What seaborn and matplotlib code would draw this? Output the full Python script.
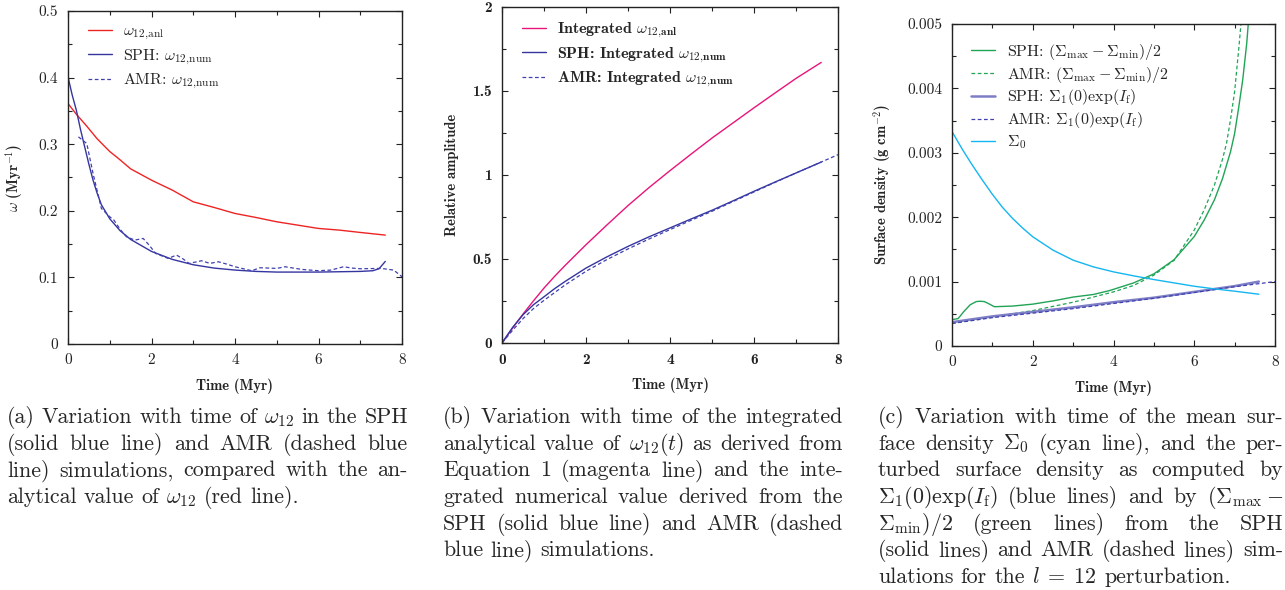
import matplotlib
matplotlib.use("Agg")
import numpy as np
import pandas as pd
import seaborn as sns
import matplotlib.pyplot as plt
from matplotlib.ticker import MultipleLocator, FuncFormatter
from matplotlib.transforms import IdentityTransform

# ---- panel (a): omega_12 vs time
t_anl = [0, 0.2, 0.45, 0.7, 1.0, 1.2, 1.5, 2.0, 2.5, 3.0, 3.5, 4.0, 4.5, 5.0, 5.5, 6.0, 6.5, 7.0, 7.6]
w_anl = [0.361, 0.345, 0.327, 0.308, 0.289, 0.279, 0.263, 0.246, 0.231, 0.2135, 0.205, 0.196, 0.19,
         0.1835, 0.1785, 0.1735, 0.171, 0.1675, 0.1635]
t_sph = [0, 0.1, 0.2, 0.3, 0.4, 0.5, 0.6, 0.7, 0.8, 1.0, 1.25, 1.5, 2.0, 2.5, 3.0, 3.5, 4.0, 4.5,
         5.0, 5.5, 6.0, 6.5, 7.0, 7.3, 7.45, 7.6]
w_sph = [0.401, 0.374, 0.351, 0.322, 0.296, 0.27, 0.246, 0.226, 0.209, 0.188, 0.17, 0.157, 0.139,
         0.127, 0.119, 0.114, 0.111, 0.109, 0.108, 0.108, 0.108, 0.1085, 0.109, 0.11, 0.113, 0.124]
t_amr = [0.25, 0.35, 0.45, 0.6, 0.8, 1.0, 1.1, 1.25, 1.4, 1.6, 1.8, 1.95, 2.1, 2.4, 2.6, 2.75, 2.9,
         3.2, 3.4, 3.6, 3.8, 4.0, 4.2, 4.4, 4.6, 5.0, 5.2, 5.6, 6.0, 6.3, 6.6, 6.8, 7.0, 7.5, 7.8, 8.0]
w_amr = [0.311, 0.306, 0.301, 0.256, 0.2035, 0.191, 0.186, 0.172, 0.161, 0.156, 0.1585, 0.148,
         0.136, 0.1285, 0.1335, 0.128, 0.121, 0.125, 0.121, 0.1235, 0.12, 0.116, 0.113, 0.11,
         0.1145, 0.1135, 0.116, 0.112, 0.11, 0.111, 0.116, 0.114, 0.113, 0.1135, 0.111, 0.101]

# ---- panel (b): integrated amplitude
t_int = [0, 0.25, 0.5, 0.75, 1, 1.25, 1.5, 2, 2.5, 3, 3.5, 4, 4.5, 5, 5.5, 6, 6.5, 7, 7.6]
int_anl = [0, 0.088, 0.172, 0.251, 0.327, 0.396, 0.461, 0.585, 0.703, 0.818, 0.925, 1.026, 1.124,
           1.22, 1.31, 1.40, 1.488, 1.575, 1.67]
int_sph = [0, 0.092, 0.168, 0.228, 0.275, 0.323, 0.366, 0.446, 0.513, 0.575, 0.632, 0.685, 0.738,
           0.79, 0.846, 0.903, 0.958, 1.012, 1.077]
t_int_amr = [0, 0.25, 0.5, 0.75, 1, 1.5, 2, 2.5, 3, 3.5, 4, 4.5, 5, 5.5, 6, 6.5, 7, 7.5, 8]
int_amr = [0, 0.075, 0.145, 0.205, 0.254, 0.345, 0.427, 0.497, 0.56, 0.619, 0.675, 0.73, 0.784,
           0.842, 0.899, 0.956, 1.012, 1.066, 1.121]

# ---- panel (c): surface density
t_sig0 = [0, 0.25, 0.5, 0.75, 1, 1.25, 1.5, 1.75, 2, 2.5, 3, 3.5, 4, 4.5, 5, 5.5, 6, 6.5, 7, 7.6]
sig0 = [0.00333, 0.00306, 0.002811, 0.002578, 0.002355, 0.002153, 0.001981, 0.001831, 0.001696,
        0.001489, 0.001333, 0.001229, 0.001151, 0.001089, 0.001032, 0.00098, 0.000928, 0.000887,
        0.000851, 0.000804]
t_gs = [0, 0.15, 0.3, 0.45, 0.6, 0.7, 0.8, 0.9, 1.05, 1.5, 2, 2.5, 3, 3.5, 3.9, 4.5, 5, 5.5, 6,
        6.25, 6.5, 6.7, 6.9, 7.0, 7.1, 7.2, 7.3, 7.35]
sig_gs = [0.00041, 0.000425, 0.00054, 0.00064, 0.00069, 0.000695, 0.00069, 0.00066, 0.00061,
          0.00062, 0.00065, 0.0007, 0.00076, 0.0008, 0.00086, 0.00098, 0.00112, 0.00134, 0.0017,
          0.00196, 0.00227, 0.0026, 0.00302, 0.0033, 0.0037, 0.00413, 0.0047, 0.0051]
t_ga = [0, 1, 2, 3, 4, 4.5, 5, 5.5, 6, 6.25, 6.5, 6.7, 6.8, 6.9, 7.0, 7.1, 7.2]
sig_ga = [0.00035, 0.00045, 0.00055, 0.00068, 0.00084, 0.00094, 0.0011, 0.00133, 0.0018, 0.00212,
          0.0025, 0.0029, 0.00315, 0.00352, 0.00395, 0.0046, 0.0053]
t_bs = [0, 1, 2, 3, 4, 5, 6, 7, 7.6]
sig_bs = [0.00037, 0.00046, 0.00053, 0.0006, 0.00068, 0.00075, 0.00084, 0.00093, 0.001]
t_ba = [0, 1, 2, 3, 4, 5, 6, 7, 8]
sig_ba = [0.00035, 0.00044, 0.00051, 0.00058, 0.00066, 0.00074, 0.00083, 0.00092, 0.001]

cap_a = [r"(a) Variation with time of $\omega_{12}$ in the SPH",
         r"(solid blue line) and AMR (dashed blue",
         r"line) simulations, compared with the an-",
         r"alytical value of $\omega_{12}$ (red line)."]
cap_b = [r"(b) Variation with time of the integrated",
         r"analytical value of $\omega_{12}(t)$ as derived from",
         r"Equation 1 (magenta line) and the inte-",
         r"grated numerical value derived from the",
         r"SPH (solid blue line) and AMR (dashed",
         r"blue line) simulations."]
cap_c = [r"(c) Variation with time of the mean sur-",
         r"face density $\Sigma_0$ (cyan line), and the per-",
         r"turbed surface density as computed by",
         r"$\Sigma_1(0)\exp(I_\mathrm{f})$ (blue lines) and by $(\Sigma_\mathrm{max}-$",
         r"$\Sigma_\mathrm{min})/2$ (green lines) from the SPH",
         r"(solid lines) and AMR (dashed lines) sim-",
         r"ulations for the $l\;=\;12$ perturbation."]

sns.set_style("ticks")
plt.rcParams["font.family"] = ["cmr10", "DejaVu Serif"]
plt.rcParams["mathtext.fontset"] = "cm"
plt.rcParams["axes.formatter.use_mathtext"] = True
plt.rcParams["axes.unicode_minus"] = False

RED, BLUE, MAG = "#ee2424", "#3535a0", "#e8147a"
GREEN, CYAN, LBLUE, DBLUE = "#20a456", "#14b6f0", "#7e7ec6", "#4040b0"
DASH = (0, (3, 2))

fig = plt.figure(figsize=(12.85, 5.90), dpi=100)
W, H = 1285, 590


def make_ax(x0, x1, ytop, ybot):
    return fig.add_axes([x0 / W, 1 - ybot / H, (x1 - x0) / W, (ybot - ytop) / H])


def style_ax(ax, ymaj, ymax, bold=False):
    ax.set_xlim(0, 8)
    ax.set_ylim(0, ymax)
    ax.xaxis.set_major_locator(MultipleLocator(2))
    ax.xaxis.set_minor_locator(MultipleLocator(1))
    ax.yaxis.set_major_locator(MultipleLocator(ymaj))
    ax.yaxis.set_minor_locator(MultipleLocator(ymaj / 2))
    fmt = FuncFormatter(lambda v, p: "%g" % round(v, 6))
    ax.xaxis.set_major_formatter(fmt)
    ax.yaxis.set_major_formatter(fmt)
    ax.tick_params(which="both", direction="in", top=True, right=True, width=0.8,
                   colors="#222222", labelsize=11, pad=7)
    ax.tick_params(which="major", length=4)
    ax.tick_params(which="minor", length=3)
    for s in ax.spines.values():
        s.set_linewidth(1.0)
        s.set_color("#222222")
    fam = "cmb10" if bold else "cmr10"
    plt.setp(ax.get_xticklabels() + ax.get_yticklabels(), fontfamily=fam)
    ax.set_xlabel("Time (Myr)", fontfamily="cmb10", fontsize=10.5, labelpad=8)


# (a)
ax1 = make_ax(68, 402, 11, 344)
sns.lineplot(x=t_anl, y=w_anl, ax=ax1, color=RED, lw=1.0, label=r"$\omega_{12,\!\mathrm{anl}}$")
sns.lineplot(x=t_sph, y=w_sph, ax=ax1, color=BLUE, lw=1.0,
             label=r"SPH: $\omega_{12,\!\mathrm{num}}$")
sns.lineplot(x=t_amr, y=w_amr, ax=ax1, color=DBLUE, lw=0.9, linestyle=DASH,
             label=r"AMR: $\omega_{12,\!\mathrm{num}}$")
style_ax(ax1, 0.1, 0.5)
ax1.set_ylabel(r"$\omega$ (Myr$^{-1}$)", fontfamily="cmb10", fontsize=10.5, labelpad=10)
ax1.legend(loc="upper left", bbox_to_anchor=(0.06, 0.96), frameon=False, fontsize=11.5,
           handlelength=1.5, handletextpad=0.7, labelspacing=0.32, borderpad=0, borderaxespad=0)

# (b)
ax2 = make_ax(502, 838, 7, 343)
sns.lineplot(x=t_int, y=int_anl, ax=ax2, color=MAG, lw=1.0,
             label=r"Integrated $\omega_{\mathbf{12,\!anl}}$")
sns.lineplot(x=t_int, y=int_sph, ax=ax2, color=BLUE, lw=1.0,
             label=r"SPH: Integrated $\omega_{\mathbf{12,\!num}}$")
sns.lineplot(x=t_int_amr, y=int_amr, ax=ax2, color=DBLUE, lw=0.9, linestyle=DASH,
             label=r"AMR: Integrated $\omega_{\mathbf{12,\!num}}$")
style_ax(ax2, 0.5, 2, bold=True)
ax2.set_ylabel("Relative amplitude", fontfamily="cmb10", fontsize=10.5, labelpad=10)
ax2.legend(loc="upper left", bbox_to_anchor=(0.06, 0.958), frameon=False,
           prop={"family": "cmb10", "size": 11.5},
           handlelength=1.5, handletextpad=0.7, labelspacing=0.32, borderpad=0, borderaxespad=0)

# (c)
ax3 = make_ax(952, 1275, 24, 346)
sns.lineplot(x=t_gs, y=sig_gs, ax=ax3, color=GREEN, lw=1.0,
             label=r"SPH: $(\Sigma_\mathrm{max}-\Sigma_\mathrm{min})/2$")
sns.lineplot(x=t_ga, y=sig_ga, ax=ax3, color=GREEN, lw=0.9, linestyle=DASH,
             label=r"AMR: $(\Sigma_\mathrm{max}-\Sigma_\mathrm{min})/2$")
sns.lineplot(x=t_bs, y=sig_bs, ax=ax3, color=LBLUE, lw=1.8,
             label=r"SPH: $\Sigma_1(0)\exp(I_\mathrm{f})$")
sns.lineplot(x=t_ba, y=sig_ba, ax=ax3, color=DBLUE, lw=0.9, linestyle=DASH,
             label=r"AMR: $\Sigma_1(0)\exp(I_\mathrm{f})$")
sns.lineplot(x=t_sig0, y=sig0, ax=ax3, color=CYAN, lw=1.0, label=r"$\Sigma_0$")
style_ax(ax3, 0.001, 0.005)
ax3.set_ylabel(r"Surface density (g cm$^{-2}$)", fontfamily="cmb10", fontsize=10.5, labelpad=10)
ax3.legend(loc="upper left", bbox_to_anchor=(0.06, 0.945), frameon=False, fontsize=11.5,
           handlelength=1.5, handletextpad=0.7, labelspacing=0.18, borderpad=0, borderaxespad=0)


def caption(lines, x0, x1, y_first, dy=26.7, size=15.8):
    ren = fig.canvas.get_renderer()
    space = size * 0.333 * fig.dpi / 72
    for i, line in enumerate(lines):
        words = line.split(" ")
        texts = [fig.text(0, 0, w, fontsize=size, va="baseline", ha="left",
                          transform=IdentityTransform()) for w in words]
        widths = [t.get_window_extent(ren).width for t in texts]
        if i < len(lines) - 1 and len(words) > 1:
            gap = (x1 - x0 - sum(widths)) / (len(words) - 1)
        else:
            gap = space
        x = x0
        y = H - (y_first + i * dy)
        for t, w in zip(texts, widths):
            t.set_position((x, y))
            x += w + gap


caption(cap_a, 7, 408, 423)
caption(cap_b, 443, 843, 423)
caption(cap_c, 878, 1283, 423)

fig.savefig("out.png", dpi=100)
